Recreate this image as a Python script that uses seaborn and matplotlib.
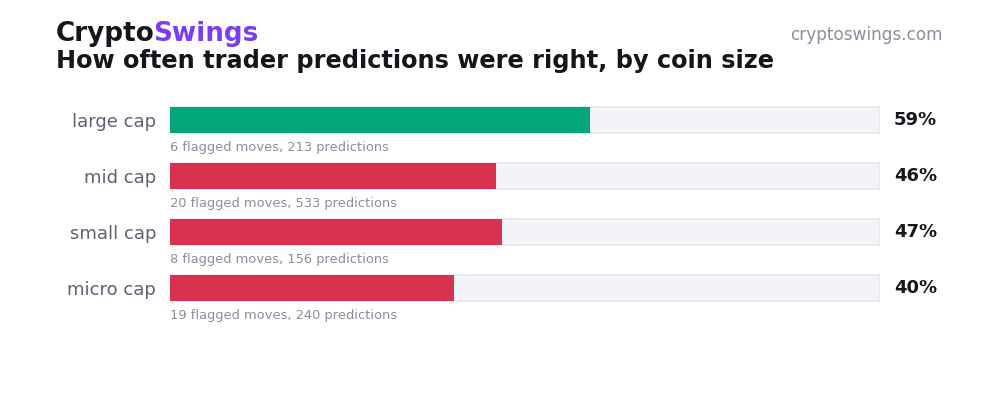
import matplotlib
matplotlib.use("Agg")
import matplotlib.pyplot as plt
import seaborn as sns
import pandas as pd

# chart data
caps = ["large cap", "mid cap", "small cap", "micro cap"]
hit_rate = [59.2, 45.9, 46.8, 40.0]
flagged_moves = [6, 20, 8, 19]
predictions = [213, 533, 156, 240]

GREEN = "#02a87b"
RED = "#d93150"
TRACK = "#f3f4f8"
TRACK_EDGE = "#e7e9f0"
PURPLE = "#7b3cf5"
DARK = "#15161c"
LABEL = "#5c6174"
MUTED = "#8a8f9e"

sns.set_theme(style="white")
plt.rcParams["font.family"] = ["DejaVu Sans"]

df = pd.DataFrame({"cap": caps, "rate": hit_rate, "full": [100] * len(caps)})
df["outcome"] = ["good" if r >= 50 else "bad" for r in hit_rate]

fig = plt.figure(figsize=(10, 4.2), dpi=100)
W, H = 1000, 420
# axes spans the bar track area (pixel coords from the reference)
ax = fig.add_axes([170 / W, 1 - 316 / H, 710 / W, 224 / H])

# background tracks
sns.barplot(data=df, x="full", y="cap", orient="h", color=TRACK, saturation=1,
            width=0.464, edgecolor=TRACK_EDGE, linewidth=1.2, ax=ax)
# value bars
sns.barplot(data=df, x="rate", y="cap", hue="outcome", orient="h",
            palette={"good": GREEN, "bad": RED}, saturation=1,
            width=0.464, linewidth=0, legend=False, ax=ax)

ax.set_xlim(0, 100)
ax.set_ylim(3.5, -0.5)
ax.set_xlabel("")
ax.set_ylabel("")
ax.set_xticks([])
for s in ax.spines.values():
    s.set_visible(False)
ax.tick_params(axis="y", length=0, pad=10, labelsize=13, labelcolor=LABEL)
for lab in ax.get_yticklabels():
    lab.set_va("center_baseline")

for i, cap in enumerate(caps):
    ax.annotate(f"{hit_rate[i]:.0f}%", xy=(100, i), xytext=(10, 0),
                textcoords="offset points", ha="left", va="center",
                fontsize=13, fontweight="bold", color=DARK, annotation_clip=False)
    ax.annotate(f"{flagged_moves[i]} flagged moves, {predictions[i]} predictions",
                xy=(0, i), xytext=(0, -19.5), textcoords="offset points",
                ha="left", va="center", fontsize=9.35, color=MUTED,
                annotation_clip=False)

# header
t1 = fig.text(56 / W, 1 - 41 / H, "Crypto", fontsize=18.9, fontweight="bold",
              color=DARK, va="baseline", ha="left")
fig.canvas.draw()
bb = t1.get_window_extent()
fig.text((bb.x1 - 1.5) / W, 1 - 41 / H, "Swings", fontsize=18.9, fontweight="bold",
         color=PURPLE, va="baseline", ha="left")
fig.text(56 / W, 1 - 68 / H, "How often trader predictions were right, by coin size",
         fontsize=17.3, fontweight="bold", color=DARK, va="baseline", ha="left")
fig.text(943 / W, 1 - 40 / H, "cryptoswings.com", fontsize=12.2, color=MUTED,
         va="baseline", ha="right")

fig.savefig("out.png", dpi=100, facecolor="white")
